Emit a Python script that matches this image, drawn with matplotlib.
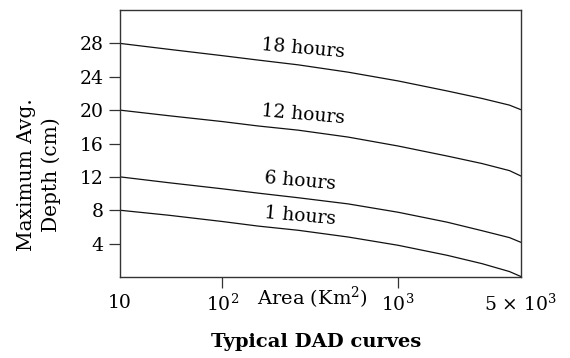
import numpy as np
import matplotlib
matplotlib.use('Agg')
import matplotlib.pyplot as plt

plt.rcParams['font.family'] = 'DejaVu Serif'
plt.rcParams['mathtext.fontset'] = 'dejavuserif'

# area (km2) and depth (cm)
area = [10, 30, 100, 160, 270, 520, 1000, 1900, 3000, 4300, 5000]
depth_18h = [28.0, 27.29, 26.53, 26.0, 25.43, 24.55, 23.5, 22.3, 21.4, 20.6, 20.05]
depth_12h = [20.0, 19.33, 18.63, 18.1, 17.6, 16.77, 15.7, 14.5, 13.6, 12.75, 12.1]
depth_6h = [12.0, 11.3, 10.57, 10.05, 9.5, 8.76, 7.76, 6.57, 5.55, 4.72, 4.15]
depth_1h = [8.0, 7.4, 6.65, 6.1, 5.6, 4.79, 3.8, 2.6, 1.6, 0.65, 0.05]

curve_names = ['18 hours', '12 hours', '6 hours', '1 hours']
label_x = [290, 290, 276, 276]
label_y = [27.4, 19.4, 11.5, 7.25]

y_ticks = [4, 8, 12, 16, 20, 24, 28]

# the sketch squeezes the 10-100 decade
k = 103 / 177.0
def fwd(x):
    lx = np.log10(np.clip(x, 1e-3, None))
    return np.where(lx >= 2, lx, 2 - (2 - lx) * k)
def inv(u):
    u = np.asarray(u, dtype=float)
    return np.where(u >= 2, 10 ** u, 10 ** (2 - (2 - u) / k))

fig = plt.figure(figsize=(5.70, 3.58), dpi=100)
ax = fig.add_axes([0.2105, 0.2263, 0.7035, 0.7457])
ax.set_xscale('function', functions=(fwd, inv))

for d in [depth_18h, depth_12h, depth_6h, depth_1h]:
    ax.plot(area, d, color='#111111', lw=0.9)

for name, lx, ly in zip(curve_names, label_x, label_y):
    ax.text(lx, ly, name, fontsize=13.5, rotation=-5, rotation_mode='anchor',
            ha='center', va='center')

ax.set_xlim(10, 5000)
ax.set_ylim(0, 32)
ax.set_yticks(y_ticks)
ax.set_xticks([100, 1000], ['10$^2$', '10$^3$'])
ax.set_xticks([10, 5000], ['10', '5 × 10$^3$'], minor=True)
ax.tick_params(which='major', length=8, width=0.9, direction='out', labelsize=13.5, pad=4, color='#333333')
ax.tick_params(axis='x', which='minor', length=0, labelsize=13.5, pad=12)
ax.tick_params(axis='y', which='minor', left=False)
for s in ax.spines.values():
    s.set_linewidth(1.0)
    s.set_color('#333333')

fig.text(312 / 570, 1 - 298 / 358, 'Area (Km$^2$)', fontsize=14, ha='center', va='center')
fig.text(39 / 570, 1 - 175 / 358, 'Maximum Avg.\nDepth (cm)', fontsize=14.5, rotation=90,
         ha='center', va='center', multialignment='center', linespacing=1.3)
fig.text(316 / 570, 1 - 342 / 358, 'Typical DAD curves', fontsize=14, fontweight='bold',
         ha='center', va='center')

fig.savefig('out.png', dpi=100)
